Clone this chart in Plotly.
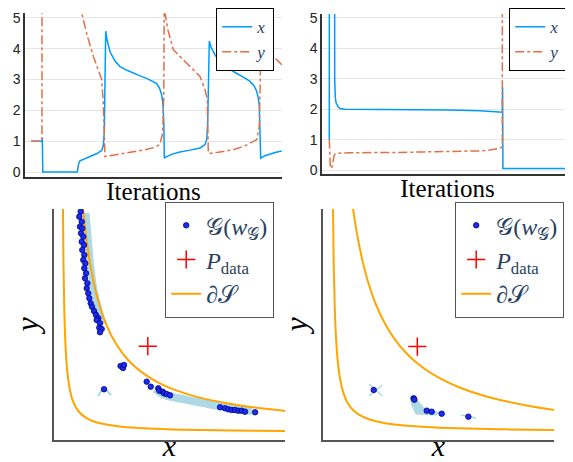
import plotly.graph_objects as go

# ---------------- top-left: x, y over iterations ----------------
tl_x_it = [0, 110, 113, 118, 463, 475, 490, 540, 590, 660, 707, 723, 733, 738, 743, 747, 760, 790, 840, 890,
           960, 1023, 1090, 1157, 1210, 1257, 1285, 1307, 1318, 1323, 1328, 1333, 1357, 1410, 1490, 1590, 1690,
           1740, 1757, 1767, 1773, 1778, 1783, 1800, 1840, 1890, 1957, 2020, 2090, 2140, 2190, 2230, 2257, 2273,
           2283, 2290, 2297, 2340, 2390, 2450, 2507]
tl_x_val = [1.0, 1.0, 1.12, 0.0, 0.0, 0.25, 0.36, 0.43, 0.50, 0.60, 0.70, 0.85, 1.3, 2.3, 3.6, 4.57, 4.3, 3.9,
            3.6, 3.42, 3.3, 3.2, 3.12, 3.04, 2.96, 2.87, 2.72, 2.51, 2.25, 2.02, 1.6, 0.45, 0.50, 0.58, 0.65,
            0.71, 0.78, 0.89, 1.05, 1.6, 2.35, 3.4, 4.25, 4.05, 3.8, 3.58, 3.4, 3.27, 3.15, 3.05, 2.94, 2.8,
            2.62, 2.4, 2.13, 1.5, 0.45, 0.53, 0.59, 0.64, 0.68]
tl_y_it = [0, 110, 115, 190, 290, 390, 450, 507, 560, 623, 670, 707, 723, 733, 740, 790, 890, 1023, 1140, 1240,
           1290, 1317, 1328, 1333, 1340, 1370, 1423, 1490, 1557, 1620, 1690, 1740, 1763, 1773, 1783, 1890, 2023,
           2140, 2220, 2257, 2283, 2293, 2297, 2310, 2350, 2390, 2423, 2507]
tl_y_val = [1.0, 1.0, 60, 25, 12, 8, 6.2, 5.16, 4.45, 3.76, 3.3, 3.0, 2.24, 1.05, 0.5, 0.53, 0.58, 0.65, 0.72,
            0.8, 0.9, 1.27, 2.5, 6.0, 5.16, 4.6, 3.97, 3.75, 3.54, 3.33, 3.1, 2.67, 2.35, 0.62, 0.6, 0.65, 0.72,
            0.85, 0.98, 1.05, 1.48, 3.0, 6.0, 5.5, 4.7, 4.1, 3.76, 3.48]

# ---------------- top-right ----------------
tr_x_it = [0, 3, 47, 50, 54, 60, 67, 90, 107, 157, 707, 1207, 1507, 1707, 1730, 1733, 1736, 2437]
tr_x_val = [1.0, 30, 30, 5.5, 3.0, 2.4, 2.22, 2.07, 2.02, 2.0, 1.99, 1.97, 1.95, 1.92, 1.9, 2.72, 0.05, 0.05]
tr_y_it = [0, 5, 10, 24, 40, 50, 67, 207, 707, 1207, 1507, 1607, 1707, 1730, 1734, 2437]
tr_y_val = [1.0, 0.5, 0.1, 0.05, 0.33, 0.5, 0.55, 0.57, 0.58, 0.6, 0.63, 0.66, 0.72, 0.77, 50, 50]

# ---------------- bottom-left: generator samples ----------------
bl_g_x = [0.224, 0.208, 0.236, 0.216, 0.243, 0.228, 0.254, 0.236, 0.262, 0.243, 0.266, 0.254, 0.277, 0.266,
          0.286, 0.274, 0.301, 0.294, 0.312, 0.324, 0.340, 0.355, 0.378, 0.401, 0.428, 0.409, 0.447, 0.439,
          0.467, 0.447,
          0.987, 1.034, 1.121, 1.133, 1.172, 1.187, 1.218, 1.257, 1.835, 1.892, 1.931, 1.970, 2.009, 2.046,
          2.086, 2.124, 2.240,
          0.685, 0.714, 0.725, 0.494]
bl_g_y = [2.555, 2.497, 2.439, 2.382, 2.363, 2.305, 2.266, 2.208, 2.170, 2.112, 2.054, 1.997, 1.958, 1.901,
          1.843, 1.785, 1.727, 1.669, 1.612, 1.554, 1.496, 1.457, 1.407, 1.361, 1.323, 1.303, 1.265, 1.214,
          1.199, 1.161,
          0.590, 0.532, 0.513, 0.486, 0.474, 0.455, 0.447, 0.432, 0.294, 0.282, 0.270, 0.262, 0.262, 0.254,
          0.254, 0.243, 0.236,
          0.771, 0.748, 0.783, 0.502]
bl_trail1_x = [0.285, 0.303, 0.322, 0.345, 0.374, 0.412, 0.448, 0.466]
bl_trail1_y = [2.540, 2.343, 2.112, 1.881, 1.673, 1.511, 1.373, 1.257]
bl_trail2_x = [1.083, 1.199, 1.372, 1.546, 1.719, 1.892, 2.066, 2.205]
bl_trail2_y = [0.505, 0.436, 0.395, 0.361, 0.326, 0.297, 0.268, 0.251]
bl_trail3_x = [0.424, 0.494, 0.575]
bl_trail3_y = [0.424, 0.502, 0.434]
bl_p_x = [1.0]
bl_p_y = [1.0]
bl_inner_x = [0.0187, 0.025, 0.035, 0.05, 0.07, 0.1, 0.14, 0.2, 0.3, 0.45, 0.7, 1.0, 1.4, 2.0, 2.62]
bl_inner_y = [2.62, 1.96, 1.40, 0.98, 0.70, 0.49, 0.35, 0.245, 0.163, 0.109, 0.07, 0.049, 0.035, 0.0245, 0.0187]
bl_outer_x = [0.248, 0.29, 0.34, 0.40, 0.48, 0.58, 0.70, 0.806, 0.929, 1.121, 1.354, 1.625, 1.912, 2.241, 2.62]
bl_outer_y = [2.62, 2.241, 1.912, 1.625, 1.354, 1.121, 0.929, 0.806, 0.70, 0.58, 0.48, 0.40, 0.34, 0.29, 0.248]

# ---------------- bottom-right ----------------
br_g_x = [0.496, 0.958, 0.966, 1.109, 1.166, 1.282, 1.590]
br_g_y = [0.488, 0.392, 0.376, 0.249, 0.237, 0.214, 0.179]
br_fan_x = [0.916, 0.985, 1.089, 1.274, 1.193, 0.985, 0.939, 0.916]
br_fan_y = [0.407, 0.384, 0.268, 0.222, 0.199, 0.210, 0.303, 0.407]
br_seg_x = [0.444, 0.594, None, 0.444, 0.594, None, 1.505, 1.679]
br_seg_y = [0.557, 0.419, None, 0.419, 0.546, None, 0.199, 0.164]
br_p_x = [1.0]
br_p_y = [0.99]
br_inner_x = [0.0252, 0.033, 0.045, 0.06, 0.08, 0.11, 0.15, 0.2, 0.257, 0.33, 0.44, 0.60, 0.825, 1.10, 1.467,
              2.0, 2.62]
br_inner_y = [2.62, 2.0, 1.467, 1.10, 0.825, 0.60, 0.44, 0.33, 0.257, 0.2, 0.15, 0.11, 0.08, 0.06, 0.045,
              0.033, 0.0252]
br_outer_x = [0.25, 0.30, 0.36, 0.43, 0.52, 0.63, 0.75, 0.893, 1.059, 1.247, 1.480, 1.740, 2.009, 2.309, 2.632]
br_outer_y = [2.632, 2.309, 2.009, 1.740, 1.480, 1.247, 1.059, 0.893, 0.75, 0.63, 0.52, 0.43, 0.36, 0.30, 0.25]

BLUE = "#009AFA"
RED = "#E26F46"
ORANGE = "#FFA500"
LIGHT = "#ADD8E6"
GBLUE = "#1a2cf0"

fig = go.Figure()

# top-left
fig.add_trace(go.Scatter(x=tl_x_it, y=tl_x_val, mode="lines", name="<i>x</i>", line=dict(color=BLUE, width=1.5),
                         xaxis="x", yaxis="y", legend="legend", legendrank=1))
fig.add_trace(go.Scatter(x=tl_y_it, y=tl_y_val, mode="lines", name="<i>y</i>",
                         line=dict(color=RED, width=1.5, dash="dashdot"),
                         xaxis="x", yaxis="y", legend="legend", legendrank=2))
# top-right
fig.add_trace(go.Scatter(x=tr_x_it, y=tr_x_val, mode="lines", name="<i>x</i>", line=dict(color=BLUE, width=1.5),
                         xaxis="x2", yaxis="y2", legend="legend2", legendrank=1))
fig.add_trace(go.Scatter(x=tr_y_it, y=tr_y_val, mode="lines", name="<i>y</i>",
                         line=dict(color=RED, width=1.5, dash="dashdot"),
                         xaxis="x2", yaxis="y2", legend="legend2", legendrank=2))

G_NAME = "𝒢(<i>w</i><sub>𝒢</sub>)"
P_NAME = "<i>P</i><sub>data</sub>"
S_NAME = "∂𝒮"

# bottom-left
for tx, ty, w in [(bl_trail1_x, bl_trail1_y, 7), (bl_trail2_x, bl_trail2_y, 8), (bl_trail3_x, bl_trail3_y, 2)]:
    fig.add_trace(go.Scatter(x=tx, y=ty, mode="lines", line=dict(color=LIGHT, width=w, shape="spline"),
                             showlegend=False, hoverinfo="skip", xaxis="x3", yaxis="y3"))
fig.add_trace(go.Scatter(x=bl_inner_x, y=bl_inner_y, mode="lines", name=S_NAME,
                         line=dict(color=ORANGE, width=2, shape="spline"), xaxis="x3", yaxis="y3",
                         legend="legend3", legendrank=3))
fig.add_trace(go.Scatter(x=bl_outer_x, y=bl_outer_y, mode="lines", name=S_NAME, showlegend=False,
                         line=dict(color=ORANGE, width=2, shape="spline"), xaxis="x3", yaxis="y3"))
fig.add_trace(go.Scatter(x=bl_g_x, y=bl_g_y, mode="markers", name=G_NAME,
                         marker=dict(color=GBLUE, size=5.5, line=dict(color="#000080", width=0.8)),
                         xaxis="x3", yaxis="y3", legend="legend3", legendrank=1))
fig.add_trace(go.Scatter(x=bl_p_x, y=bl_p_y, mode="markers", name=P_NAME,
                         marker=dict(symbol="cross-thin", size=13, line=dict(color="#FF0000", width=1.5)),
                         xaxis="x3", yaxis="y3", legend="legend3", legendrank=2))

# bottom-right
fig.add_trace(go.Scatter(x=br_fan_x, y=br_fan_y, mode="lines", fill="toself", fillcolor=LIGHT,
                         line=dict(color=LIGHT, width=1), showlegend=False, hoverinfo="skip",
                         xaxis="x4", yaxis="y4"))
fig.add_trace(go.Scatter(x=br_seg_x, y=br_seg_y, mode="lines", line=dict(color=LIGHT, width=1.5),
                         showlegend=False, hoverinfo="skip", xaxis="x4", yaxis="y4"))
fig.add_trace(go.Scatter(x=br_inner_x, y=br_inner_y, mode="lines", name=S_NAME,
                         line=dict(color=ORANGE, width=2, shape="spline"), xaxis="x4", yaxis="y4",
                         legend="legend4", legendrank=3))
fig.add_trace(go.Scatter(x=br_outer_x, y=br_outer_y, mode="lines", name=S_NAME, showlegend=False,
                         line=dict(color=ORANGE, width=2, shape="spline"), xaxis="x4", yaxis="y4"))
fig.add_trace(go.Scatter(x=br_g_x, y=br_g_y, mode="markers", name=G_NAME,
                         marker=dict(color=GBLUE, size=5.5, line=dict(color="#000080", width=0.8)),
                         xaxis="x4", yaxis="y4", legend="legend4", legendrank=1))
fig.add_trace(go.Scatter(x=br_p_x, y=br_p_y, mode="markers", name=P_NAME,
                         marker=dict(symbol="cross-thin", size=13, line=dict(color="#FF0000", width=1.5)),
                         xaxis="x4", yaxis="y4", legend="legend4", legendrank=2))

SERIF = "Liberation Serif"
top_x = dict(showline=True, linecolor="#333", linewidth=1.5, showgrid=False, zeroline=False,
             showticklabels=False, ticks="", automargin=False,
             title=dict(text="Iterations", font=dict(family=SERIF, size=25, color="black"), standoff=5))
top_y = dict(showline=True, linecolor="#333", linewidth=1.5, showgrid=True, gridcolor="#e6e6e6",
             gridwidth=1, zeroline=False, tickvals=[0, 1, 2, 3, 4, 5], ticks="", automargin=False,
             ticklabelstandoff=0, tickfont=dict(family="Liberation Sans", size=14, color="#222"))
bot_x = dict(showline=True, linecolor="#555", linewidth=1.5, showgrid=False, zeroline=False,
             showticklabels=False, ticks="", automargin=False,
             title=dict(text="<i>x</i>", font=dict(family=SERIF, size=30, color="black"), standoff=15))
bot_y = dict(showline=True, linecolor="#555", linewidth=1.5, showgrid=False, zeroline=False,
             showticklabels=False, ticks="", automargin=False,
             title=dict(text="<i>y</i>", font=dict(family=SERIF, size=32, color="black"), standoff=4))

# the page body adds an 8px offset, so the figure is 565x454 and fills the rest of the window
fig.update_layout(
    width=565, height=454, margin=dict(l=0, r=0, t=0, b=0),
    paper_bgcolor="white", plot_bgcolor="white",
    font=dict(family="Liberation Sans"),
    xaxis=dict(domain=[0.03009, 0.48496], range=[-60, 2510], **top_x),
    yaxis=dict(domain=[0.62775, 0.98833], range=[-0.162, 5.15], anchor="x", **top_y),
    xaxis2=dict(domain=[0.55575, 1.0], range=[-73, 2437], anchor="y2", **top_x),
    yaxis2=dict(domain=[0.63436, 0.98678], range=[-0.13, 5.13], anchor="x2", **top_y),
    xaxis3=dict(domain=[0.08142, 0.49027], range=[-0.0844, 2.586], anchor="y3", **bot_x),
    yaxis3=dict(domain=[0.04846, 0.55727], range=[-0.0844, 2.586], anchor="x3", **bot_y),
    xaxis4=dict(domain=[0.55752, 0.96637], range=[-0.0902, 2.580], anchor="y4", **bot_x),
    yaxis4=dict(domain=[0.04846, 0.55727], range=[-0.0902, 2.580], anchor="x4", **bot_y),
    legend=dict(x=0.4708, y=1.0, xanchor="right", yanchor="top", bgcolor="white", bordercolor="black",
                borderwidth=1.2, font=dict(family=SERIF, size=17), itemwidth=30, tracegroupgap=0),
    legend2=dict(x=0.98938, y=1.0, xanchor="right", yanchor="top", bgcolor="white", bordercolor="black",
                 borderwidth=1.2, font=dict(family=SERIF, size=17), itemwidth=30, tracegroupgap=0),
    legend3=dict(x=0.4708, y=0.57269, xanchor="right", yanchor="top", bgcolor="white", bordercolor="#555",
                 borderwidth=1.2, font=dict(family=SERIF, size=24), itemwidth=30, tracegroupgap=0),
    legend4=dict(x=0.98407, y=0.57269, xanchor="right", yanchor="top", bgcolor="white", bordercolor="#555",
                 borderwidth=1.2, font=dict(family=SERIF, size=24), itemwidth=30, tracegroupgap=0),
)

fig.write_html("out.html")
